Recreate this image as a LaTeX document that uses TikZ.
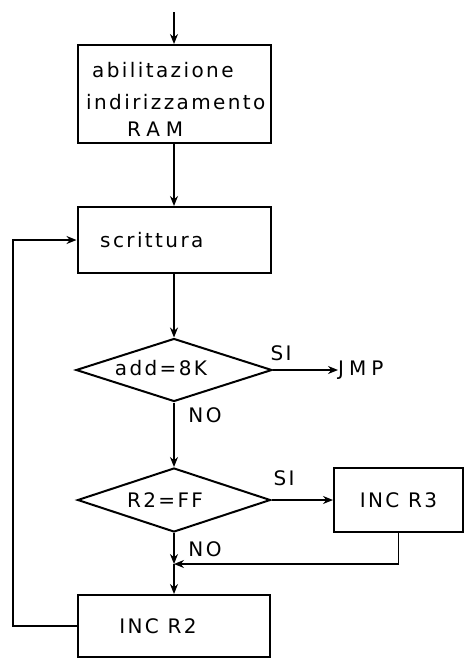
\documentclass[tikz,border=0pt]{standalone}
\usepackage{fontspec}
\setmainfont{DejaVu Sans}[LetterSpace=12]
\usetikzlibrary{shapes.geometric,arrows.meta}
\begin{document}
\begin{tikzpicture}[x=1pt,y=-1pt,
  every node/.style={font=\fontsize{20}{22}\selectfont},
  box/.style={draw,line width=2pt,inner sep=0pt},
  dia/.style={draw,diamond,line width=2pt,inner sep=0pt,aspect=3},
  txt/.style={inner sep=0pt},
  conn/.style={line width=1.5pt},
  arr/.style={conn,-{Stealth[length=10pt,width=8pt]}}]
\useasboundingbox (0,0) rectangle (464,659);
\coordinate (start) at (174,12);
\node[box,minimum width=193pt,minimum height=98pt] (b1) at (174,94) {};
\node[txt,anchor=west] (t1) at (92,70) {abilitazione};
\node[txt,anchor=west] (t2) at (86,102) {indirizzamento};
\node[txt,anchor=west] (t3) at (127,129) {\addfontfeature{LetterSpace=30}RAM};
\node[box,minimum width=193pt,minimum height=66pt] (b2) at (174,240) {};
\node[txt,anchor=west] (t4) at (100,240) {scrittura};
\node[dia,minimum width=196pt,minimum height=63pt] (d1) at (174,370) {};
\node[txt] (t5) at (161,368) {add=8K};
\node[txt] (si1) at (281,353) {SI};
\node[txt,anchor=west] (jmp) at (338,370) {\addfontfeature{LetterSpace=25}JMP};
\node[txt] (no1) at (205,415) {NO};
\node[dia,minimum width=193pt,minimum height=64pt] (d2) at (174,500) {};
\node[txt] (t6) at (165,500) {R2=FF};
\node[txt] (si2) at (284,478) {SI};
\node[box,minimum width=129pt,minimum height=64pt] (r3) at (398.5,500) {INC R3};
\node[txt] (no2) at (205,549) {NO};
\coordinate (merge) at (174,564);
\node[box,minimum width=192pt,minimum height=62pt] (r2) at (174,626) {};
\node[txt] (t7) at (158,626) {INC R2};
\coordinate (lb) at (13,626);
\coordinate (lt) at (13,240);
\draw[arr] (start) -- (b1.north);
\draw[arr] (b1.south) -- (b2.north);
\draw[arr] (b2.south) -- (d1.north);
\draw[arr] (d1.east) -- (d1.east -| jmp.west);
\draw[arr] (d1.south) -- (d2.north);
\draw[arr] (d2.east) -- (r3.west);
\draw[arr] (r3.south) |- (merge);
\draw[arr] (d2.south) -- (merge);
\draw[arr] (merge) -- (r2.north);
\draw[arr] (r2.west) -- (lb) -- (lt) -- (b2.west);
\end{tikzpicture}
\end{document}
